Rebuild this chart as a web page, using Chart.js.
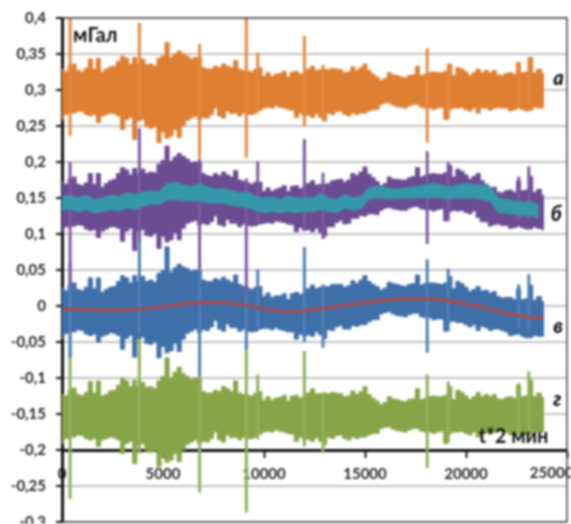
<!DOCTYPE html>
<html>
<head>
<meta charset="utf-8">
<style>
html, body { margin: 0; padding: 0; background: #fff; }
canvas { display: block; filter: blur(0.8px); }
</style>
<script src="https://cdn.jsdelivr.net/npm/chart.js@4"></script>
</head>
<body>
<canvas id="chart" width="571" height="524"></canvas>
<script>
const times = [0,200,400,600,800,1000,1200,1400,1600,1800,2000,2200,2400,2600,2800,3000,3200,3400,3600,3800,
4000,4200,4400,4600,4800,5000,5200,5400,5600,5800,6000,6200,6400,6600,6800,7000,7200,7400,7600,7800,
8000,8200,8400,8600,8800,9000,9200,9400,9600,9800,10000,10200,10400,10600,10800,11000,11200,11400,11600,11800,
12000,12200,12400,12600,12800,13000,13200,13400,13600,13800,14000,14200,14400,14600,14800,15000,15200,15400,15600,15800,
16000,16200,16400,16600,16800,17000,17200,17400,17600,17800,18000,18200,18400,18600,18800,19000,19200,19400,19600,19800,
20000,20200,20400,20600,20800,21000,21200,21400,21600,21800,22000,22200,22400,22600,22800,23000,23200,23400,23600,23860];

// а
const aHigh = [.329,.325,.333,.336,.327,.325,.330,.343,.329,.344,.325,.329,.332,.333,.340,.347,.344,.336,.345,.336,
.343,.335,.336,.333,.344,.347,.366,.345,.350,.354,.350,.347,.343,.345,.345,.331,.329,.329,.333,.331,
.336,.333,.331,.341,.329,.327,.326,.325,.329,.331,.319,.324,.319,.322,.323,.326,.318,.325,.326,.322,
.324,.329,.333,.327,.328,.329,.328,.330,.329,.328,.324,.325,.332,.327,.331,.336,.327,.322,.318,.313,
.316,.324,.321,.320,.318,.317,.320,.321,.333,.320,.322,.324,.325,.324,.324,.326,.336,.320,.331,.329,
.325,.320,.324,.329,.324,.327,.324,.327,.321,.320,.323,.324,.322,.338,.324,.325,.345,.324,.329,.323];
const aLow = [.259,.266,.268,.268,.271,.270,.266,.264,.266,.255,.264,.266,.268,.267,.264,.245,.259,.262,.231,.257,
.259,.249,.247,.249,.227,.242,.233,.236,.245,.234,.250,.258,.261,.264,.259,.262,.261,.266,.275,.264,
.261,.271,.267,.268,.264,.268,.266,.266,.268,.272,.275,.276,.275,.278,.276,.275,.273,.272,.262,.268,
.264,.265,.262,.267,.262,.257,.268,.266,.270,.271,.266,.264,.268,.266,.268,.268,.271,.273,.273,.280,
.282,.282,.279,.277,.276,.275,.278,.280,.280,.276,.275,.275,.273,.275,.276,.259,.273,.275,.275,.276,
.273,.271,.275,.268,.275,.275,.272,.275,.276,.275,.275,.271,.273,.275,.273,.271,.272,.276,.275,.275];

// б
const bHigh = [.173,.169,.176,.179,.169,.167,.171,.184,.169,.184,.165,.170,.174,.176,.184,.192,.189,.182,.191,.183,
.190,.184,.186,.185,.197,.202,.222,.201,.207,.212,.208,.204,.199,.200,.199,.184,.181,.180,.184,.181,
.186,.182,.179,.188,.175,.173,.171,.169,.172,.172,.159,.164,.159,.162,.164,.167,.159,.166,.167,.163,
.165,.170,.174,.168,.169,.169,.170,.174,.175,.176,.172,.175,.184,.181,.186,.193,.183,.178,.173,.167,
.170,.179,.176,.176,.175,.175,.178,.180,.192,.179,.181,.183,.184,.183,.183,.185,.195,.179,.190,.187,
.182,.176,.180,.184,.174,.169,.163,.165,.158,.157,.160,.161,.158,.174,.160,.161,.180,.158,.162,.154];
const bLow = [.103,.110,.111,.111,.113,.112,.107,.105,.106,.095,.104,.107,.110,.110,.108,.090,.104,.108,.077,.104,
.106,.098,.097,.101,.080,.097,.089,.092,.102,.092,.108,.115,.117,.119,.113,.115,.113,.117,.125,.113,
.111,.120,.115,.115,.110,.114,.112,.111,.112,.114,.115,.116,.115,.118,.117,.116,.114,.113,.103,.109,
.105,.106,.103,.108,.102,.097,.110,.110,.116,.119,.114,.115,.122,.122,.126,.125,.128,.128,.127,.133,
.136,.137,.135,.134,.133,.133,.136,.138,.138,.135,.134,.134,.132,.134,.135,.118,.131,.133,.132,.133,
.130,.128,.132,.123,.117,.117,.111,.113,.114,.112,.112,.108,.109,.111,.109,.107,.107,.110,.108,.106];

// б, средняя полоса (каждая вторая точка times)
const tealHigh = [.153,.153,.150,.154,.148,.150,.154,.152,.157,.155,.158,.160,.159,.170,.172,.168,.166,.170,.165,.162,
.163,.160,.157,.158,.152,.150,.151,.148,.153,.150,.150,.150,.156,.150,.148,.155,.150,.152,.164,.166,
.165,.162,.163,.165,.166,.168,.170,.168,.165,.168,.170,.169,.168,.166,.150,.148,.146,.144,.145,.140];
const tealLow = [.133,.135,.131,.134,.129,.131,.134,.132,.136,.134,.138,.142,.141,.147,.148,.146,.146,.146,.143,.143,
.143,.140,.138,.137,.132,.130,.131,.130,.131,.130,.131,.131,.134,.131,.130,.136,.133,.135,.149,.150,
.149,.149,.150,.150,.150,.151,.151,.150,.149,.150,.150,.150,.148,.146,.130,.129,.127,.126,.126,.122];

// в
const vHigh = [.025,.021,.029,.032,.023,.021,.026,.039,.024,.039,.019,.023,.026,.027,.034,.042,.039,.032,.042,.034,
.041,.034,.036,.033,.045,.049,.082,.047,.053,.058,.054,.052,.048,.050,.050,.036,.034,.034,.038,.036,
.040,.036,.033,.043,.030,.027,.025,.023,.026,.027,.013,.018,.012,.014,.014,.017,.009,.017,.019,.016,
.018,.024,.029,.024,.026,.027,.027,.030,.030,.030,.026,.028,.035,.031,.036,.042,.034,.030,.027,.022,
.025,.033,.031,.030,.028,.027,.030,.031,.043,.029,.031,.032,.032,.031,.030,.032,.041,.024,.034,.031,
.026,.020,.023,.027,.021,.022,.018,.020,.013,.011,.012,.012,.009,.024,.009,.010,.029,.008,.013,.006];
const vLow = [-.045,-.038,-.036,-.036,-.033,-.034,-.039,-.041,-.039,-.050,-.042,-.040,-.037,-.038,-.041,-.060,-.045,-.041,-.071,-.045,
-.043,-.052,-.053,-.050,-.072,-.056,-.065,-.062,-.052,-.063,-.046,-.038,-.035,-.032,-.037,-.033,-.034,-.029,-.020,-.032,
-.035,-.025,-.030,-.030,-.035,-.032,-.035,-.036,-.035,-.032,-.031,-.031,-.033,-.030,-.033,-.034,-.036,-.036,-.046,-.039,
-.042,-.040,-.042,-.036,-.040,-.045,-.033,-.034,-.029,-.027,-.032,-.032,-.027,-.028,-.026,-.026,-.022,-.019,-.019,-.011,
-.009,-.008,-.011,-.013,-.014,-.015,-.012,-.010,-.010,-.015,-.016,-.016,-.019,-.018,-.018,-.035,-.022,-.021,-.023,-.023,
-.026,-.029,-.026,-.034,-.028,-.030,-.034,-.032,-.032,-.034,-.036,-.041,-.040,-.039,-.042,-.044,-.044,-.041,-.042,-.042];

// в, тренд
const redTimes = [0,1000,2000,3000,4000,5000,6000,7000,8000,9000,10000,11000,12000,13000,14000,15000,16000,17000,18000,19000,20000,21000,22000,23000,23860];
const redValues = [-.004,-.005,-.006,-.006,-.004,-.001,.003,.005,.005,.002,-.004,-.008,-.007,-.003,.001,.005,.008,.010,.010,.008,.003,-.003,-.010,-.015,-.017];

// г
const gHigh = [-.123,-.125,-.117,-.114,-.123,-.125,-.120,-.105,-.121,-.104,-.125,-.123,-.118,-.117,-.110,-.100,-.104,-.112,-.103,-.112,
-.106,-.113,-.112,-.115,-.104,-.098,-.072,-.100,-.092,-.085,-.094,-.098,-.102,-.100,-.100,-.119,-.121,-.121,-.117,-.119,
-.112,-.115,-.119,-.104,-.121,-.123,-.124,-.125,-.121,-.119,-.131,-.126,-.131,-.128,-.127,-.124,-.132,-.125,-.124,-.128,
-.126,-.121,-.115,-.122,-.122,-.121,-.122,-.120,-.121,-.122,-.126,-.125,-.118,-.123,-.119,-.112,-.123,-.128,-.132,-.137,
-.134,-.126,-.129,-.130,-.132,-.133,-.130,-.129,-.115,-.130,-.128,-.126,-.125,-.126,-.126,-.124,-.112,-.130,-.117,-.120,
-.125,-.130,-.126,-.120,-.126,-.123,-.126,-.123,-.129,-.130,-.127,-.126,-.128,-.110,-.126,-.125,-.103,-.126,-.121,-.127];
const gLow = [-.191,-.184,-.182,-.182,-.179,-.180,-.184,-.186,-.184,-.195,-.186,-.184,-.182,-.183,-.186,-.205,-.191,-.188,-.219,-.193,
-.191,-.201,-.203,-.201,-.223,-.208,-.217,-.214,-.205,-.216,-.200,-.192,-.189,-.186,-.191,-.188,-.189,-.184,-.175,-.186,
-.189,-.179,-.183,-.182,-.186,-.182,-.184,-.184,-.182,-.178,-.175,-.174,-.175,-.172,-.174,-.175,-.177,-.178,-.188,-.182,
-.186,-.185,-.188,-.183,-.188,-.193,-.182,-.184,-.180,-.179,-.184,-.186,-.182,-.184,-.182,-.182,-.179,-.177,-.177,-.170,
-.168,-.168,-.171,-.173,-.174,-.175,-.172,-.170,-.170,-.174,-.175,-.175,-.177,-.175,-.174,-.191,-.177,-.175,-.175,-.174,
-.177,-.179,-.175,-.182,-.175,-.175,-.178,-.175,-.174,-.175,-.175,-.179,-.177,-.175,-.177,-.179,-.178,-.174,-.175,-.175];

// одиночные выбросы
const spikeTimes = [400,3830,6810,9125,9690,12000,12920,18080,19120,22610,23110];
const aSpikeTop = [.4,.3935,.364,.4,.352,.375,.335,.358,.336,.338,.345];
const aSpikeBottom = [.236,.262,.206,.206,.27,.25,.257,.227,.259,.28,.28];
const bSpikeTop = [.2,.247,.205,.177,.201,.232,.185,.215,.2,.18,.194];
const bSpikeBottom = [.028,.09,.051,.014,.115,.105,.093,.086,.118,.12,.12];
const vSpikeTop = [.06,.098,.05,.03,.051,.082,.03,.065,.052,.03,.044];
const vSpikeBottom = [-.072,-.04,-.097,-.06,-.03,-.05,-.058,-.065,-.035,-.03,-.035];
const gSpikeTop = [-.04,-.045,-.09,-.05,-.095,-.0625,-.12,-.095,-.105,-.107,-.091];
const gSpikeBottom = [-.268,-.205,-.259,-.287,-.185,-.195,-.204,-.225,-.19,-.18,-.18];

const yTicks = [-.3,-.25,-.2,-.15,-.1,-.05,0,.05,.1,.15,.2,.25,.3,.35,.4];
const xTicks = [0,5000,10000,15000,20000,25000];

const notes = [
    { text: 'мГал', t: 550, v: .3755, font: 'bold 20px Lato', color: '#111' },
    { text: 'а', t: 24320, v: .3160, font: 'italic 900 20px Lato', color: '#111' },
    { text: 'б', t: 24200, v: .1264, font: 'italic 900 20px Lato', color: '#111' },
    { text: 'в', t: 24320, v: -.0292, font: 'italic 900 20px Lato', color: '#111' },
    { text: 'г', t: 24320, v: -.1306, font: 'italic 900 20px Lato', color: '#111' },
    { text: 't*2 мин', t: 20630, v: -.1820, font: 'bold 20px Lato', color: '#111' },
    // подпись последнего деления сдвинута влево, как на исходном графике
    { text: '25000', t: 23160, v: -.2320, font: 'bold 15px Lato', color: '#262626' }
];

function line(xs, ys) {
    let pts = [];
    for (let i = 0; i < xs.length; i++) {
        pts.push({ x: xs[i], y: ys[i] });
    }
    return pts;
}

function band(xs, hi, lo, color, stepped) {
    return [
        { data: line(xs, hi), borderColor: color, backgroundColor: color, borderWidth: 1, fill: '+1', stepped: stepped },
        { data: line(xs, lo), borderColor: color, borderWidth: 1, fill: false, stepped: stepped }
    ];
}

function spikes(top, bottom, color) {
    let pts = [];
    for (let i = 0; i < spikeTimes.length; i++) {
        pts.push({ x: spikeTimes[i], y: top[i] });
        pts.push({ x: spikeTimes[i], y: bottom[i] });
        pts.push({ x: spikeTimes[i], y: null });
    }
    return { data: pts, borderColor: color, borderWidth: 3, fill: false, borderCapStyle: 'butt' };
}

const tealTimes = times.filter((t, i) => i % 2 === 0);

// первый набор рисуется поверх остальных
const datasets = [
    spikes(aSpikeTop, aSpikeBottom, '#e48a42'),
    ...band(times, aHigh, aLow, '#df7f32', 'middle'),
    ...band(tealTimes, tealHigh, tealLow, '#3497aa', false),
    spikes(bSpikeTop, bSpikeBottom, '#7a5a9f'),
    ...band(times, bHigh, bLow, '#6b4c92', 'middle'),
    { data: line(redTimes, redValues), borderColor: '#b0484a', borderWidth: 3, fill: false },
    spikes(vSpikeTop, vSpikeBottom, '#4f7fb5'),
    ...band(times, vHigh, vLow, '#3f6fa9', 'middle'),
    spikes(gSpikeTop, gSpikeBottom, '#92ae5b'),
    ...band(times, gHigh, gLow, '#86a548', 'middle')
];

const framePlugin = {
    id: 'frame',
    afterDatasetsDraw(chart) {
        const { ctx, chartArea, scales } = chart;
        ctx.save();
        ctx.strokeStyle = '#404040';
        ctx.lineWidth = 1.5;
        ctx.beginPath();
        ctx.moveTo(chartArea.left, chartArea.top);
        ctx.lineTo(chartArea.right, chartArea.top);
        ctx.lineTo(chartArea.right, chartArea.bottom);
        ctx.lineTo(chartArea.left, chartArea.bottom);
        ctx.stroke();
        ctx.textBaseline = 'middle';
        ctx.textAlign = 'left';
        notes.forEach(n => {
            ctx.font = n.font;
            ctx.fillStyle = n.color;
            ctx.fillText(n.text, scales.x.getPixelForValue(n.t), scales.y.getPixelForValue(n.v));
        });
        ctx.restore();
    }
};

new Chart(document.getElementById('chart'), {
    type: 'line',
    data: { datasets: datasets },
    plugins: [framePlugin],
    options: {
        responsive: false,
        animation: false,
        layout: { padding: { top: 18, right: 4, bottom: 2, left: 0 } },
        elements: { point: { radius: 0 }, line: { tension: 0 } },
        plugins: { legend: { display: false }, tooltip: { enabled: false } },
        scales: {
            x: {
                type: 'linear',
                min: 0,
                max: 25000,
                position: { y: -0.2 },
                afterBuildTicks: s => { s.ticks = xTicks.map(v => ({ value: v })); },
                afterFit: s => { s.height = 0; s.paddingLeft = 0; s.paddingRight = 0; },
                border: { color: '#111', width: 3 },
                grid: { drawOnChartArea: false, tickColor: '#111', tickLength: 6, tickWidth: 2 },
                ticks: {
                    color: '#262626',
                    font: { family: 'Lato', size: 15, weight: 'bold' },
                    padding: 9,
                    maxRotation: 0,
                    callback: v => (v === 25000 ? '' : String(v))
                }
            },
            y: {
                type: 'linear',
                min: -0.3,
                max: 0.4,
                afterFit: s => { s.width = 62; s.paddingTop = 0; s.paddingBottom = 0; },
                afterBuildTicks: s => { s.ticks = yTicks.map(v => ({ value: v })); },
                border: { color: '#111', width: 3 },
                grid: { color: '#c4c4c4', lineWidth: 2, tickColor: '#111', tickLength: 6, tickWidth: 2 },
                ticks: {
                    color: '#262626',
                    font: { family: 'Lato', size: 15, weight: 'bold' },
                    padding: 10,
                    callback: v => String(v).replace('.', ',')
                }
            }
        }
    }
});
</script>
</body>
</html>
